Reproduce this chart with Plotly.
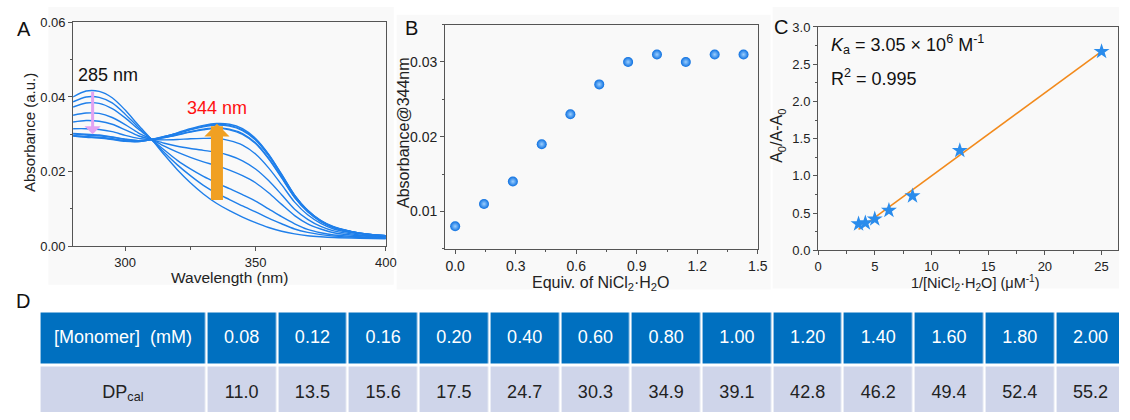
import plotly.graph_objects as go

FONT = "Liberation Sans, Arial, sans-serif"
W, H = 1130, 420

# ---------------- Panel A : UV-vis titration spectra ----------------
wavelength_nm = [280, 285, 290, 295, 300, 305, 310, 315, 320, 325, 330, 335,
                 340, 345, 350, 355, 360, 365, 370, 375, 380, 390, 400]
abs_00 = [0.0400, 0.0416, 0.0415, 0.0398, 0.0365, 0.0325, 0.0287, 0.0245, 0.0205, 0.0170, 0.0140, 0.0115,
          0.0095, 0.0078, 0.0063, 0.0050, 0.0040, 0.0033, 0.0028, 0.0025, 0.0023, 0.0021, 0.0020]
abs_01 = [0.0387, 0.0400, 0.0399, 0.0384, 0.0354, 0.0319, 0.0287, 0.0251, 0.0218, 0.0189, 0.0163, 0.0142,
          0.0125, 0.0108, 0.0092, 0.0075, 0.0060, 0.0046, 0.0037, 0.0031, 0.0027, 0.0023, 0.0021]
abs_02 = [0.0373, 0.0384, 0.0383, 0.0369, 0.0344, 0.0314, 0.0287, 0.0258, 0.0230, 0.0207, 0.0187, 0.0170,
          0.0154, 0.0138, 0.0121, 0.0100, 0.0079, 0.0060, 0.0045, 0.0036, 0.0030, 0.0025, 0.0022]
abs_03 = [0.0351, 0.0357, 0.0356, 0.0345, 0.0326, 0.0304, 0.0287, 0.0268, 0.0252, 0.0238, 0.0226, 0.0216,
          0.0204, 0.0189, 0.0170, 0.0143, 0.0112, 0.0082, 0.0060, 0.0046, 0.0036, 0.0028, 0.0024]
abs_04 = [0.0333, 0.0337, 0.0335, 0.0327, 0.0312, 0.0296, 0.0286, 0.0276, 0.0268, 0.0262, 0.0257, 0.0252,
          0.0243, 0.0229, 0.0207, 0.0176, 0.0138, 0.0099, 0.0072, 0.0053, 0.0041, 0.0030, 0.0025]
abs_05 = [0.0315, 0.0315, 0.0313, 0.0307, 0.0297, 0.0289, 0.0286, 0.0285, 0.0286, 0.0288, 0.0289, 0.0289,
          0.0283, 0.0271, 0.0247, 0.0210, 0.0165, 0.0118, 0.0084, 0.0061, 0.0046, 0.0033, 0.0027]
abs_06 = [0.0302, 0.0300, 0.0298, 0.0293, 0.0287, 0.0283, 0.0286, 0.0291, 0.0298, 0.0306, 0.0312, 0.0316,
          0.0312, 0.0300, 0.0275, 0.0234, 0.0183, 0.0130, 0.0092, 0.0066, 0.0050, 0.0034, 0.0028]
abs_07 = [0.0297, 0.0294, 0.0292, 0.0288, 0.0283, 0.0281, 0.0286, 0.0293, 0.0302, 0.0312, 0.0320, 0.0325,
          0.0322, 0.0310, 0.0285, 0.0243, 0.0190, 0.0135, 0.0095, 0.0068, 0.0051, 0.0035, 0.0028]
abs_08 = [0.0301, 0.0298, 0.0296, 0.0292, 0.0286, 0.0283, 0.0286, 0.0291, 0.0299, 0.0307, 0.0314, 0.0318,
          0.0314, 0.0302, 0.0277, 0.0236, 0.0185, 0.0131, 0.0093, 0.0067, 0.0050, 0.0035, 0.0028]
abs_09 = [0.0296, 0.0293, 0.0291, 0.0287, 0.0282, 0.0281, 0.0286, 0.0294, 0.0303, 0.0313, 0.0322, 0.0327,
          0.0324, 0.0312, 0.0287, 0.0245, 0.0192, 0.0136, 0.0096, 0.0068, 0.0051, 0.0035, 0.0028]
abs_10 = [0.0295, 0.0292, 0.0290, 0.0286, 0.0281, 0.0280, 0.0286, 0.0294, 0.0304, 0.0315, 0.0324, 0.0329,
          0.0327, 0.0315, 0.0289, 0.0247, 0.0193, 0.0137, 0.0096, 0.0069, 0.0052, 0.0035, 0.0028]
spectra = [abs_00, abs_01, abs_02, abs_03, abs_04, abs_05, abs_06, abs_07, abs_08, abs_09, abs_10]

# ---------------- Panel B : absorbance at 344 nm ----------------
equiv_ni = [0.0, 0.143, 0.286, 0.429, 0.571, 0.714, 0.857, 1.0, 1.143, 1.286, 1.429]
abs_344 = [0.008, 0.011, 0.014, 0.019, 0.023, 0.027, 0.030, 0.031, 0.030, 0.031, 0.031]

# ---------------- Panel C : Benesi-Hildebrand plot ----------------
inv_ni_conc = [3.57, 4.17, 5.0, 6.25, 8.33, 12.5, 25.0]
a0_ratio = [0.354, 0.367, 0.42, 0.535, 0.73, 1.34, 2.67]

# ---------------- Panel D : table ----------------
row_labels = ["[Monomer]\u00a0\u00a0(mM)", "DP<sub>cal</sub>"]
monomer_mM = ["0.08", "0.12", "0.16", "0.20", "0.40", "0.60", "0.80",
              "1.00", "1.20", "1.40", "1.60", "1.80", "2.00"]
dp_cal = ["11.0", "13.5", "15.6", "17.5", "24.7", "30.3", "34.9",
          "39.1", "42.8", "46.2", "49.4", "52.4", "55.2"]


def px(x):
    return x / W


def py(y):
    return 1 - y / H


BLUE = "#1f7fea"
fig = go.Figure()

# Panel A traces
for s in spectra:
    fig.add_trace(go.Scatter(x=wavelength_nm, y=s, mode="lines",
                             line=dict(color=BLUE, width=1.4, shape="spline", smoothing=0.8),
                             xaxis="x", yaxis="y", hoverinfo="skip"))

# Panel B
fig.add_trace(go.Scatter(x=equiv_ni, y=abs_344, mode="markers",
                         marker=dict(size=10, color="#0b6fe0",
                                     gradient=dict(type="radial", color="#9ccfff"),
                                     line=dict(width=0)),
                         xaxis="x2", yaxis="y2", hoverinfo="skip"))

# Panel C fit + points
n = len(inv_ni_conc)
mx = sum(inv_ni_conc) / n
my = sum(a0_ratio) / n
sxy = sum((a - mx) * (b - my) for a, b in zip(inv_ni_conc, a0_ratio))
sxx = sum((a - mx) ** 2 for a in inv_ni_conc)
slope = sxy / sxx
icpt = my - slope * mx
fx = [min(inv_ni_conc), max(inv_ni_conc)]
fig.add_trace(go.Scatter(x=fx, y=[icpt + slope * v for v in fx], mode="lines",
                         line=dict(color="#f28a1c", width=1.6),
                         xaxis="x3", yaxis="y3", hoverinfo="skip"))
fig.add_trace(go.Scatter(x=inv_ni_conc, y=a0_ratio, mode="markers",
                         marker=dict(symbol="star", size=12, color="#2a8cec", line=dict(width=0)),
                         xaxis="x3", yaxis="y3", hoverinfo="skip"))

# Panel D table (heatmap cells + text)
first_w = 169 / 71.7
ncol = len(monomer_mM)
edges = [0, first_w] + [first_w + k + 1 for k in range(ncol)]
z = [[0] * (ncol + 1), [1] * (ncol + 1)]
fig.add_trace(go.Heatmap(x=edges, y=[0, 1], z=z, xgap=2.5, ygap=3,
                         colorscale=[[0, "#cfd5ea"], [1, "#0070c0"]], showscale=False,
                         xaxis="x4", yaxis="y4", hoverinfo="skip", zmin=0, zmax=1))
centers = [first_w / 2] + [first_w + k + 0.5 for k in range(ncol)]
fig.add_trace(go.Scatter(x=centers, y=[1] * (ncol + 1), mode="text",
                         text=[row_labels[0]] + monomer_mM,
                         textfont=dict(family=FONT, size=18, color="white"),
                         xaxis="x4", yaxis="y4", hoverinfo="skip"))
fig.add_trace(go.Scatter(x=centers, y=[0] * (ncol + 1), mode="text",
                         text=[row_labels[1]] + dp_cal,
                         textfont=dict(family=FONT, size=18, color="#222"),
                         xaxis="x4", yaxis="y4", hoverinfo="skip"))

AX = "#555"
TICKC = "#222"


def axis(domain, rng, dtick, mdtick, fmt=None, tick0=0, fsize=13, anchor=None):
    d = dict(domain=domain, range=rng, dtick=dtick, tick0=tick0, showgrid=False, zeroline=False,
             showline=True, linecolor=AX, linewidth=1, mirror=True, ticks="outside",
             ticklen=4, tickcolor=AX, tickfont=dict(family=FONT, size=fsize, color=TICKC),
             minor=dict(dtick=mdtick, tick0=tick0, ticklen=2.5, tickcolor=AX, ticks="outside", showgrid=False),
             anchor=anchor, fixedrange=True)
    if fmt:
        d["tickformat"] = fmt
    return d


layout = dict(
    width=W, height=H, margin=dict(l=0, r=0, t=0, b=0),
    paper_bgcolor="white", plot_bgcolor="rgba(0,0,0,0)", showlegend=False,
    xaxis=axis([px(70), px(387)], [280, 400], 50, 25, tick0=300, anchor="y"),
    yaxis=axis([py(248), py(16)], [0, 0.06], 0.02, 0.01, fmt=".2f", anchor="x"),
    xaxis2=axis([px(447), px(764)], [-0.05, 1.5], 0.3, 0.15, fmt=".1f", fsize=14, anchor="y2"),
    yaxis2=axis([py(250.7), py(18.3)], [0.005, 0.035], 0.01, 0.005, fmt=".2f", fsize=14, anchor="x2"),
    xaxis3=axis([px(825), px(1129)], [0, 26.45], 5, 2.5, anchor="y3"),
    yaxis3=axis([py(252.3), py(20.7)], [0, 3], 0.5, 0.25, fmt=".1f", anchor="x3"),
    xaxis4=dict(domain=[px(36), 1], range=[0, (W - 36) / 71.7], visible=False, anchor="y4", fixedrange=True),
    yaxis4=dict(domain=[0, py(315.75)], range=[-0.345, 1.5], visible=False, anchor="x4", fixedrange=True),
)
fig.update_layout(**layout)

# panel backgrounds
for x0, x1, y0, y1 in [(45, 395, 0, 288), (398, 777, 8, 293), (779, 1130, 0, 292)]:
    fig.add_shape(type="rect", xref="paper", yref="paper", x0=px(x0), x1=px(x1), y0=py(y1), y1=py(y0),
                  fillcolor="#f9f9f9", line=dict(width=0), layer="below")

ann = []


def text(x, y, s, size, color="#222", angle=0, xanchor="center"):
    ann.append(dict(x=px(x), y=py(y), xref="paper", yref="paper", text=s, showarrow=False,
                    font=dict(family=FONT, size=size, color=color), textangle=angle,
                    xanchor=xanchor, yanchor="middle"))


# panel letters
text(20, 23, "A", 20, "#111")
text(413, 22, "B", 20, "#111")
text(787, 21, "C", 20, "#111")
text(19, 305, "D", 20, "#111")
# axis titles
text(229, 280, "Wavelength (nm)", 15.5)
text(26, 130, "Absorbance (a.u.)", 15, angle=-90)
text(605, 287, "Equiv. of NiCl<sub>2</sub>·H<sub>2</sub>O", 16)
text(405, 130, "Absorbance@344nm", 16, angle=-90)
text(985, 286, "1/[NiCl<sub>2</sub>·H<sub>2</sub>O] (μM<sup>-1</sup>)", 14.5)
text(784, 134, "A<sub>0</sub>/A-A<sub>0</sub>", 16, angle=-90)
# panel C labels
text(836, 39, "<i>K</i><sub>a</sub> = 3.05 × 10<sup>6</sup> M<sup>-1</sup>", 18, "#111", xanchor="left")
text(836, 73, "R<sup>2</sup> = 0.995", 18, "#111", xanchor="left")

# Panel A labels & arrows (data coordinates)
ann.append(dict(x=293.3, y=0.0458, xref="x", yref="y", text="285 nm", showarrow=False,
                font=dict(family=FONT, size=18, color="#111")))
ann.append(dict(x=335.3, y=0.0370, xref="x", yref="y", text="344 nm", showarrow=False,
                font=dict(family=FONT, size=18, color="#ff1010")))
ann.append(dict(x=287.5, y=0.0300, ax=287.5, ay=0.0418, xref="x", yref="y", axref="x", ayref="y",
                text="", showarrow=True, arrowhead=1, arrowsize=0.9, arrowwidth=3,
                arrowcolor="#e2a2f2"))
ann.append(dict(x=335.2, y=0.0328, ax=335.2, ay=0.0120, xref="x", yref="y", axref="x", ayref="y",
                text="", showarrow=True, arrowhead=1, arrowsize=0.35, arrowwidth=12,
                arrowcolor="rgb(240,160,35)"))

fig.update_layout(annotations=ann)

POST = ("var d=document.documentElement,b=document.body;"
        "d.style.margin='0';d.style.padding='0';d.style.overflow='hidden';"
        "b.style.margin='0';b.style.padding='0';b.style.overflow='hidden';")
fig.write_html("out.html", config={"displayModeBar": False}, post_script=POST)
